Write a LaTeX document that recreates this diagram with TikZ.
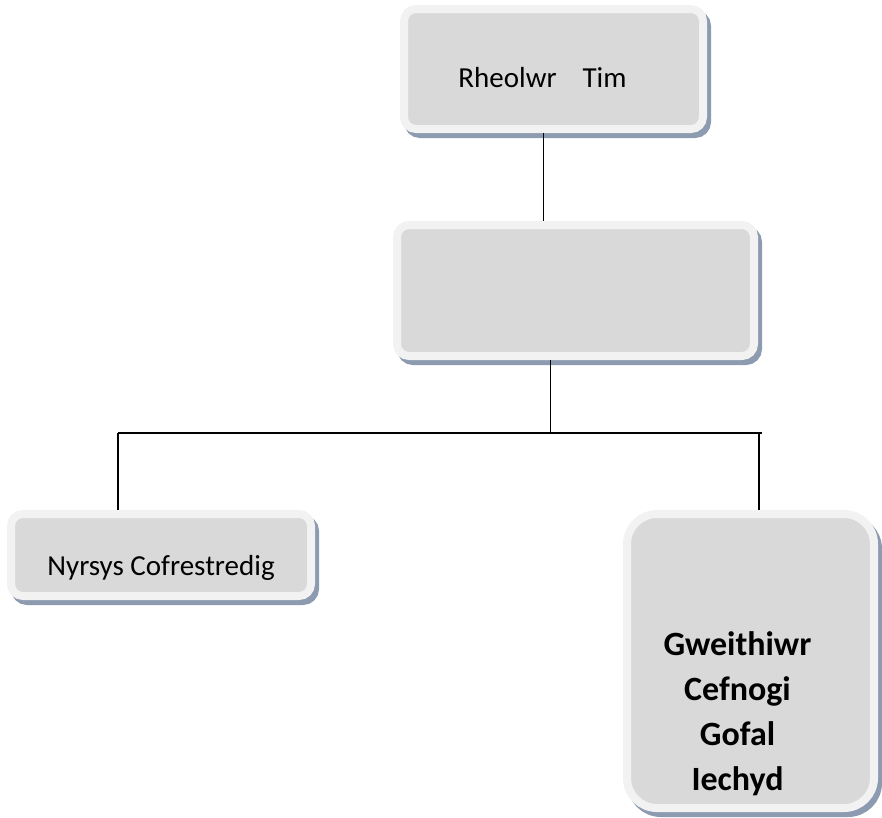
\documentclass[tikz,border=0pt]{standalone}
\usepackage{fontspec}
\setmainfont{Carlito}
\usetikzlibrary{positioning, shadows}
\definecolor{box_grey}{RGB}{217,217,217}
\definecolor{box_rim}{RGB}{242,242,242}
\definecolor{shadow_blue}{RGB}{141,155,176}

% lower (and push left) the text of a box, as the reference does
\newcommand{\droptext}[3]{\raisebox{-#1}[0pt][0pt]{\begin{tabular}{@{}c@{}}#3\end{tabular}}\hspace{#2}\mbox{}}

\tikzset{
  unit_box/.style={rectangle, fill=box_grey, draw=box_rim, line width=8pt,
    rounded corners=12pt, inner sep=0pt,
    drop shadow={shadow xshift=4pt, shadow yshift=-5pt, fill=shadow_blue,
      draw=shadow_blue, line width=8pt, opacity=1}},
  link/.style={draw, line width=1.5pt}
}

\begin{document}
\begin{tikzpicture}[x=1pt, y=-1pt]

    \useasboundingbox (0,0) rectangle (882,817);

    % --- Begin Rheolwr Tim Node ---
    \node [unit_box, minimum width=299pt, minimum height=120pt, font=\fontsize{29}{35}\selectfont] (RheolwrTim) at (553.5,69) {\droptext{18pt}{22pt}{Rheolwr\hspace{26pt}Tim}};
    % --- End Rheolwr Tim Node ---

    % --- Begin Blank Node ---
    \node [unit_box, minimum width=357pt, minimum height=131pt, below=88pt of RheolwrTim, xshift=22pt] (blank_unit) {};
    % --- End Blank Node ---

    % --- Begin Nyrsys Node ---
    \node [unit_box, minimum width=300pt, minimum height=82pt, font=\fontsize{29}{35}\selectfont] (Nyrsys) at (161,555) {\droptext{20pt}{0pt}{Nyrsys Cofrestredig}};
    % --- End Nyrsys Node ---

    % --- Begin Gweithiwr Node ---
    \node [unit_box, rounded corners=30pt, minimum width=247pt, minimum height=294pt, font=\fontsize{34}{45}\selectfont\bfseries] (Gweithiwr) at (750.5,661) {\droptext{59pt}{26pt}{Gweithiwr\\Cefnogi\\Gofal\\Iechyd}};
    % --- End Gweithiwr Node ---

    % Connect the nodes.
    \coordinate (bus_left) at (118,433);
    \coordinate (bus_right) at (762,433);
    \draw[link] ([xshift=-10pt]RheolwrTim.south) -- ([xshift=-10pt]RheolwrTim.south |- blank_unit.north);
    \draw[link] ([xshift=-25pt]blank_unit.south) -- ([xshift=-25pt]blank_unit.south |- bus_left);
    \draw[link] (bus_left) -- (bus_right);
    \draw[link] (bus_left) -- (bus_left |- Nyrsys.north);
    \draw[link] ([xshift=8.5pt]Gweithiwr.north |- bus_right) -- ([xshift=8.5pt]Gweithiwr.north);

\end{tikzpicture}
\end{document}
